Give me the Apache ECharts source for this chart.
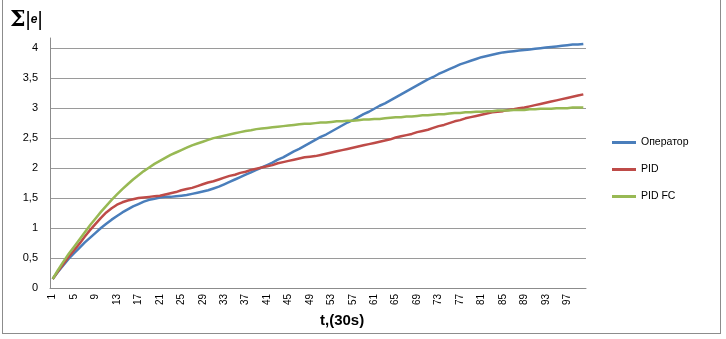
<!DOCTYPE html>
<html>
<head>
<meta charset="utf-8">
<script src="https://cdn.jsdelivr.net/npm/echarts@6/dist/echarts.min.js"></script>
<style>
  html, body { margin: 0; padding: 0; background: #fff; }
  #wrap { position: relative; width: 726px; height: 339px; }
  #frame { position: absolute; left: 2px; top: -2px; width: 719px; height: 336px; border: 1px solid #8c8c8c; box-sizing: border-box; }
  #chart { position: absolute; left: 0; top: 0; width: 726px; height: 339px; }
</style>
</head>
<body>
<div id="wrap">
  <div id="frame"></div>
  <div id="chart"></div>
</div>
<script>
var steps = [];
for (var i = 1; i <= 100; i++) { steps.push(String(i)); }

var operatorVals = [
  0.15, 0.27, 0.38, 0.49, 0.58, 0.67, 0.76, 0.84, 0.92, 1.00,
  1.07, 1.14, 1.20, 1.26, 1.31, 1.36, 1.40, 1.44, 1.47, 1.49,
  1.51, 1.52, 1.52, 1.53, 1.54, 1.55, 1.57, 1.59, 1.61, 1.63,
  1.66, 1.69, 1.73, 1.77, 1.81, 1.85, 1.89, 1.93, 1.97, 2.01,
  2.05, 2.09, 2.14, 2.18, 2.23, 2.28, 2.32, 2.37, 2.42, 2.47,
  2.52, 2.56, 2.61, 2.66, 2.71, 2.76, 2.80, 2.85, 2.90, 2.94,
  2.99, 3.04, 3.08, 3.13, 3.18, 3.23, 3.28, 3.33, 3.38, 3.43,
  3.48, 3.52, 3.57, 3.61, 3.65, 3.69, 3.73, 3.76, 3.79, 3.82,
  3.85, 3.87, 3.89, 3.91, 3.93, 3.94, 3.95, 3.96, 3.97, 3.98,
  3.99, 4.00, 4.01, 4.02, 4.03, 4.04, 4.05, 4.06, 4.06, 4.07
];

var pidVals = [
  0.15, 0.28, 0.40, 0.52, 0.63, 0.74, 0.86, 0.97, 1.07, 1.17,
  1.26, 1.33, 1.39, 1.43, 1.46, 1.48, 1.50, 1.51, 1.52, 1.53,
  1.54, 1.56, 1.58, 1.60, 1.63, 1.65, 1.67, 1.70, 1.73, 1.76,
  1.78, 1.81, 1.84, 1.87, 1.89, 1.92, 1.94, 1.97, 1.99, 2.01,
  2.03, 2.05, 2.08, 2.10, 2.12, 2.14, 2.16, 2.18, 2.19, 2.20,
  2.22, 2.24, 2.26, 2.28, 2.30, 2.32, 2.34, 2.36, 2.38, 2.40,
  2.42, 2.44, 2.46, 2.48, 2.51, 2.53, 2.55, 2.57, 2.60, 2.62,
  2.64, 2.67, 2.70, 2.72, 2.75, 2.78, 2.80, 2.83, 2.85, 2.87,
  2.89, 2.91, 2.93, 2.94, 2.95, 2.97, 2.98, 3.00, 3.01, 3.03,
  3.05, 3.07, 3.09, 3.11, 3.13, 3.15, 3.17, 3.19, 3.21, 3.23
];

var pidFcVals = [
  0.15, 0.30, 0.44, 0.57, 0.69, 0.81, 0.93, 1.05, 1.16, 1.27,
  1.37, 1.47, 1.56, 1.65, 1.73, 1.81, 1.88, 1.95, 2.01, 2.07,
  2.12, 2.17, 2.22, 2.26, 2.30, 2.34, 2.38, 2.41, 2.44, 2.47,
  2.50, 2.52, 2.54, 2.56, 2.58, 2.60, 2.62, 2.63, 2.65, 2.66,
  2.67, 2.68, 2.69, 2.70, 2.71, 2.72, 2.73, 2.74, 2.74, 2.75,
  2.76, 2.76, 2.77, 2.78, 2.78, 2.79, 2.79, 2.80, 2.81, 2.81,
  2.82, 2.82, 2.83, 2.84, 2.85, 2.85, 2.86, 2.86, 2.87, 2.88,
  2.88, 2.89, 2.90, 2.90, 2.91, 2.92, 2.92, 2.93, 2.93, 2.94,
  2.94, 2.95, 2.95, 2.96, 2.96, 2.96, 2.97, 2.97, 2.97, 2.98,
  2.98, 2.99, 2.99, 2.99, 3.00, 3.00, 3.00, 3.01, 3.01, 3.01
];

var chart = echarts.init(document.getElementById('chart'));

function line(name, data, color) {
  return {
    name: name,
    type: 'line',
    data: data,
    symbol: 'none',
    lineStyle: { color: color, width: 2.5 },
    itemStyle: { color: color }
  };
}

var option = {
  animation: false,
  textStyle: { fontFamily: 'Liberation Sans, Arial, sans-serif' },
  grid: { left: 50, right: 140, top: 38, bottom: 51 },
  legend: {
    orient: 'vertical',
    left: 607,
    top: 132,
    itemWidth: 24,
    itemHeight: 3,
    itemGap: 16,
    icon: 'rect',
    textStyle: { fontSize: 10.5, color: '#000' },
    data: ['Оператор', 'PID', 'PID FC']
  },
  xAxis: {
    type: 'category',
    data: steps,
    boundaryGap: true,
    axisLine: { lineStyle: { color: '#8c8c8c' } },
    axisTick: { interval: 0, length: 4, lineStyle: { color: '#8c8c8c' } },
    axisLabel: { interval: 3, rotate: 90, fontSize: 10, color: '#000', margin: 6 }
  },
  yAxis: {
    type: 'value',
    min: 0,
    max: 4.17,
    interval: 0.5,
    axisLine: { show: true, lineStyle: { color: '#8c8c8c' } },
    axisTick: { show: false },
    axisLabel: {
      fontSize: 11, color: '#000', margin: 12,
      showMaxLabel: false,
      formatter: function (v) {
        if (Math.abs(v * 2 - Math.round(v * 2)) > 1e-6) { return ''; }
        return String(v).replace('.', ',');
      }
    },
    splitLine: { showMaxLine: false, lineStyle: { color: '#9a9a9a' } }
  },
  graphic: [
    {
      type: 'text',
      left: 10,
      top: 9,
      style: {
        text: '{s|Σ}{b||}{e|e}{b||}',
        rich: {
          s: { fontSize: 22, fontWeight: 'bold', fill: '#000', fontFamily: 'DejaVu Serif' },
          b: { fontSize: 20, fill: '#000' },
          e: { fontSize: 12, fontWeight: 'bold', fontStyle: 'italic', fill: '#000' }
        }
      }
    },
    {
      type: 'text',
      left: 320,
      top: 313,
      style: { text: 't,(30s)', fontSize: 15, fontWeight: 'bold', fill: '#000' }
    }
  ],
  series: [
    line('Оператор', operatorVals, '#4a7ebb'),
    line('PID', pidVals, '#be4b48'),
    line('PID FC', pidFcVals, '#98b954')
  ]
};

chart.setOption(option);
</script>
</body>
</html>
